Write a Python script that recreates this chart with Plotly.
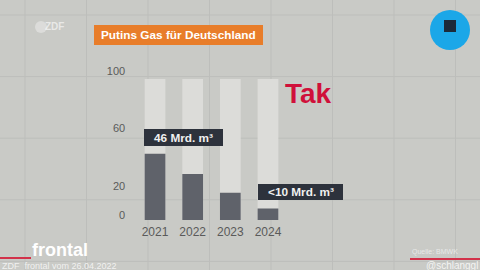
import plotly.graph_objects as go

years = ["2021", "2022", "2023", "2024"]
gas_bcm = [46, 32, 19, 8]
track = [98, 98, 98, 98]
y_ticks = [0, 20, 60, 100]
labels = {"2021": "46 Mrd. m³", "2024": "<10 Mrd. m³"}
title_text = "Putins Gas für Deutschland"

W, H = 480, 270
def px(x): return x / W
def py(y): return 1 - y / H

fig = go.Figure()
fig.add_trace(go.Bar(x=years, y=track, marker=dict(color="#dcdcd9", line=dict(width=0)),
                     width=0.55, hoverinfo="skip", showlegend=False))
fig.add_trace(go.Bar(x=years, y=gas_bcm, marker=dict(color="#5f626a", line=dict(width=0)),
                     width=0.55, showlegend=False))

shapes = []
gx = 25
while gx < W:
    shapes.append(dict(type="line", xref="paper", yref="paper", x0=px(gx), x1=px(gx), y0=0, y1=1,
                       line=dict(color="#bdbebb", width=1), layer="below"))
    gx += 61.5
gy = 15
while gy < H:
    shapes.append(dict(type="line", xref="paper", yref="paper", x0=0, x1=1, y0=py(gy), y1=py(gy),
                       line=dict(color="#bdbebb", width=1), layer="below"))
    gy += 61.6
shapes.append(dict(type="rect", xref="paper", yref="paper", x0=px(94), x1=px(263), y0=py(45), y1=py(25),
                   fillcolor="#e87d2a", line=dict(width=0)))
shapes.append(dict(type="rect", xref="paper", yref="paper", x0=px(144), x1=px(223), y0=py(146), y1=py(129),
                   fillcolor="#2d323c", line=dict(width=0)))
shapes.append(dict(type="rect", xref="paper", yref="paper", x0=px(258), x1=px(343), y0=py(200), y1=py(184),
                   fillcolor="#2d323c", line=dict(width=0)))
shapes.append(dict(type="circle", xref="paper", yref="paper", x0=px(430), x1=px(470), y0=py(50), y1=py(10),
                   fillcolor="#1ba7e8", line=dict(width=0)))
shapes.append(dict(type="rect", xref="paper", yref="paper", x0=px(444), x1=px(456), y0=py(32), y1=py(20),
                   fillcolor="#1c2a3a", line=dict(width=0)))
shapes.append(dict(type="circle", xref="paper", yref="paper", x0=px(35), x1=px(47), y0=py(33), y1=py(21),
                   fillcolor="rgba(255,255,255,0.35)", line=dict(width=0)))
shapes.append(dict(type="line", xref="paper", yref="paper", x0=0, x1=px(31), y0=py(258), y1=py(258),
                   line=dict(color="#d2324a", width=2)))
shapes.append(dict(type="line", xref="paper", yref="paper", x0=px(410), x1=1, y0=py(259), y1=py(259),
                   line=dict(color="#d2324a", width=2)))

def note(x, y, text, size, color, xanchor="center", bold=False):
    t = "<b>" + text + "</b>" if bold else text
    return dict(x=px(x), y=py(y), xref="paper", yref="paper", xanchor=xanchor, yanchor="middle",
                text=t, showarrow=False, font=dict(family="Liberation Sans", size=size, color=color))

ann = [
    note(178.5, 35, title_text, 11.8, "white", bold=True),
    note(183.5, 137.5, labels["2021"], 11.8, "#f0f0f0", bold=True),
    note(300.5, 192, labels["2024"], 11.8, "#f0f0f0", bold=True),
    note(283, 93, "Tak", 28, "#d0103a", xanchor="left", bold=True),
    note(54, 27, "ZDF", 10, "rgba(255,255,255,0.6)", bold=True),
    note(30, 250, "frontal", 18, "white", xanchor="left", bold=True),
    note(0, 266, "ZDF  frontal vom 26.04.2022", 9, "rgba(255,255,255,0.75)", xanchor="left"),
    note(410, 252, "Quelle: BMWK", 7, "rgba(255,255,255,0.6)", xanchor="left"),
    note(480, 265, "@schlanggl", 10, "rgba(255,255,255,0.8)", xanchor="right"),
]

fig.update_layout(
    width=W, height=H, margin=dict(l=0, r=0, t=0, b=0, autoexpand=False),
    paper_bgcolor="#c9cac6", plot_bgcolor="rgba(0,0,0,0)",
    barmode="overlay", shapes=shapes, annotations=ann,
    xaxis=dict(domain=[px(136.2), px(286.8)], range=[-0.5, 3.5], showgrid=False, zeroline=False,
               showline=False, ticks="", automargin=False,
               tickfont=dict(family="Liberation Sans", size=12, color="#5a5a5a"), ticklabelstandoff=3),
    yaxis=dict(domain=[py(220), py(76)], range=[0, 100], tickvals=y_ticks, showgrid=False, zeroline=False,
               showline=False, ticks="", automargin=False,
               tickfont=dict(family="Liberation Sans", size=11, color="#5a5a5a"),
               ticklabelshift=-5, ticklabelstandoff=10),
)
fig.write_html("out.html")
